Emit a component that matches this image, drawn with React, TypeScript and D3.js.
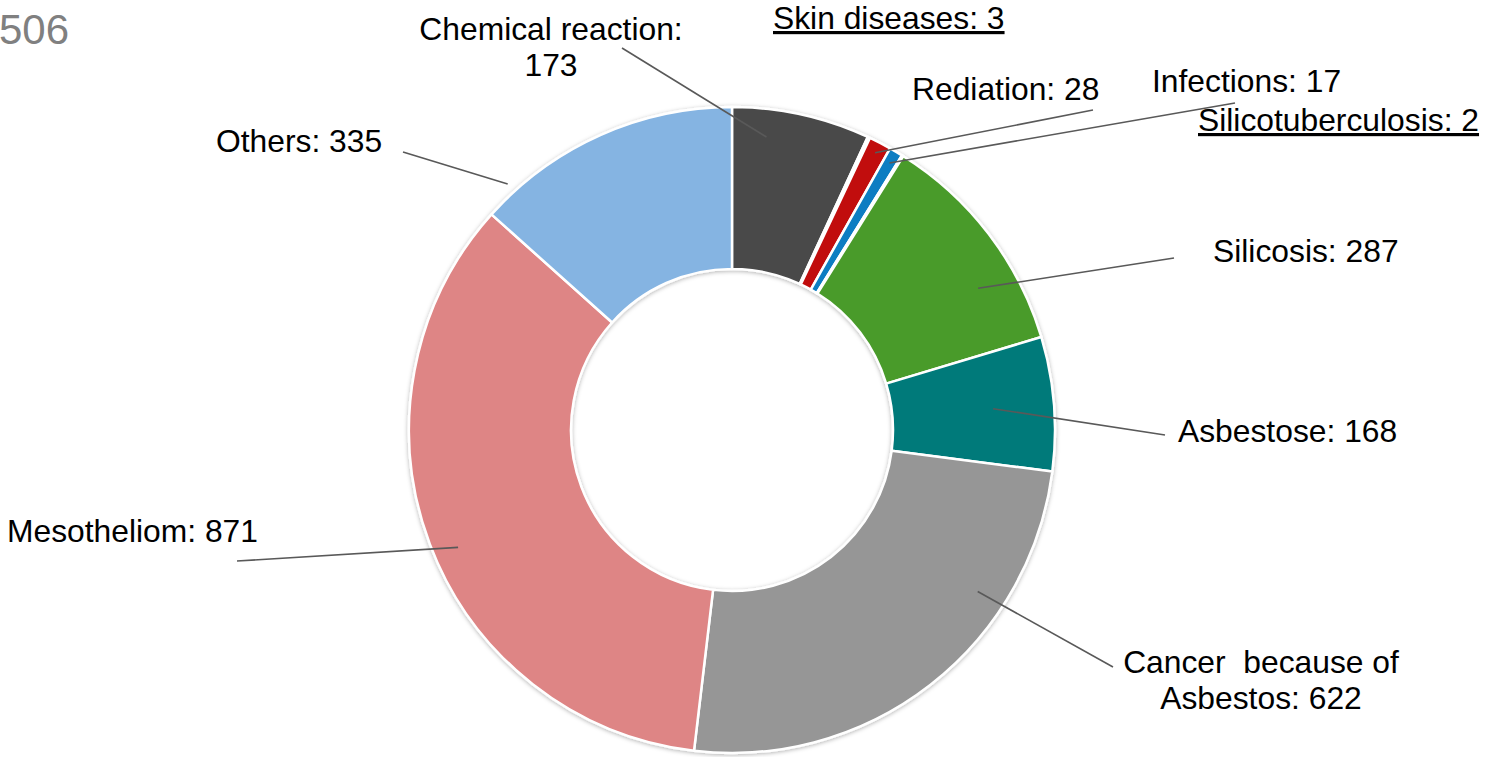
import { useEffect, useRef } from "react";
import * as d3 from "d3";

const categories = [
  "Chemical reaction",
  "Skin diseases",
  "Rediation",
  "Infections",
  "Silicotuberculosis",
  "Silicosis",
  "Asbestose",
  "Cancer  because of Asbestos",
  "Mesotheliom",
  "Others",
];
const values = [173, 3, 28, 17, 2, 287, 168, 622, 871, 335];
const colors = [
  "#494949",
  "#ffffff",
  "#c10e0e",
  "#0b7dc2",
  "#ffffff",
  "#4a9b2c",
  "#007a7a",
  "#969696",
  "#de8585",
  "#85b4e2",
];
const labelLines = [
  ["Chemical reaction:", "173"],
  ["Skin diseases: 3"],
  ["Rediation: 28"],
  ["Infections: 17"],
  ["Silicotuberculosis: 2"],
  ["Silicosis: 287"],
  ["Asbestose: 168"],
  ["Cancer  because of", "Asbestos: 622"],
  ["Mesotheliom: 871"],
  ["Others: 335"],
];
// only the tail of the total is visible in the source
const totalLabel = "506";

// label layout: text anchor point, leader outer end, leader inner end as
// fraction of the slice's angle span and radius in px (null = no leader)
const labelLayout = [
  { x: 551, y: 40, anchor: "middle", underline: false, lead: [622, 48], frac: 0.27, r: 295 },
  { x: 773, y: 29, anchor: "start", underline: true, lead: null, frac: 0, r: 0 },
  { x: 912, y: 100, anchor: "start", underline: false, lead: [1093, 110], frac: 0.5, r: 312 },
  { x: 1152, y: 92, anchor: "start", underline: false, lead: [1235, 103], frac: 0.5, r: 310 },
  { x: 1198, y: 131, anchor: "start", underline: true, lead: null, frac: 0, r: 0 },
  { x: 1213, y: 262, anchor: "start", underline: false, lead: [1174, 258], frac: 0.68, r: 284 },
  { x: 1178, y: 442, anchor: "start", underline: false, lead: [1165, 435], frac: 0.5, r: 262 },
  { x: 1261, y: 673, anchor: "middle", underline: false, lead: [1113, 667], frac: 0.29, r: 294 },
  { x: 7, y: 542, anchor: "start", underline: false, lead: [237, 561], frac: 0.48, r: 298 },
  { x: 216, y: 152, anchor: "start", underline: false, lead: [403, 152], frac: 0.12, r: 333 },
];

const width = 1485;
const height = 757;
const cx = 732;
const cy = 430;
const outerR = 323;
const innerR = 161;
const fontSize = 31.8;
const lineH = 36;

export default function App() {
  const svgRef = useRef<SVGSVGElement | null>(null);

  useEffect(() => {
    const svg = d3.select(svgRef.current);
    svg.selectAll("*").remove();

    const defs = svg.append("defs");
    const f = defs
      .append("filter")
      .attr("id", "shadow")
      .attr("x", "-20%")
      .attr("y", "-20%")
      .attr("width", "140%")
      .attr("height", "140%");
    f.append("feDropShadow")
      .attr("dx", 0)
      .attr("dy", 1)
      .attr("stdDeviation", 2.2)
      .attr("flood-color", "#000")
      .attr("flood-opacity", 0.3);

    const pie = d3
      .pie<number>()
      .sort(null)
      .value((d) => d);
    const arcs = pie(values);
    const arc = d3.arc<d3.PieArcDatum<number>>().innerRadius(innerR).outerRadius(outerR);

    const g = svg
      .append("g")
      .attr("transform", `translate(${cx},${cy})`)
      .attr("filter", "url(#shadow)");
    g.selectAll("path")
      .data(arcs)
      .join("path")
      .attr("d", arc)
      .attr("fill", (_, i) => colors[i])
      .attr("stroke", "#fff")
      .attr("stroke-width", 2.5)
      .attr("stroke-linejoin", "round");

    // leader lines
    const leaders = svg.append("g");
    arcs.forEach((a, i) => {
      const L = labelLayout[i];
      if (!L.lead) return;
      const ang = a.startAngle + (a.endAngle - a.startAngle) * L.frac;
      const ix = cx + L.r * Math.sin(ang);
      const iy = cy - L.r * Math.cos(ang);
      leaders
        .append("line")
        .attr("x1", L.lead[0])
        .attr("y1", L.lead[1])
        .attr("x2", ix)
        .attr("y2", iy)
        .attr("stroke", "#595959")
        .attr("stroke-width", 1.6);
    });

    // labels
    const labels = svg
      .append("g")
      .style("font-family", "'Liberation Sans', Arial, sans-serif")
      .style("font-size", `${fontSize}px`)
      .style("fill", "#000")
      .style("white-space", "pre");
    categories.forEach((_, i) => {
      const L = labelLayout[i];
      const t = labels
        .append("text")
        .attr("text-anchor", L.anchor)
        .attr("x", L.x)
        .attr("y", L.y)
        .attr("xml:space", "preserve");
      if (L.underline) t.style("text-decoration", "underline");
      labelLines[i].forEach((ln, j) => {
        t.append("tspan")
          .attr("x", L.x)
          .attr("y", L.y + j * lineH)
          .text(ln);
      });
    });

    svg
      .append("text")
      .attr("x", -1)
      .attr("y", 44)
      .attr("text-anchor", "start")
      .style("font-family", "'Liberation Sans', Arial, sans-serif")
      .style("font-size", "42px")
      .style("fill", "#808080")
      .text(totalLabel);
  }, []);

  return (
    <svg
      ref={svgRef}
      width={width}
      height={height}
      style={{ position: "absolute", left: 0, top: 0, background: "#fff" }}
    />
  );
}
